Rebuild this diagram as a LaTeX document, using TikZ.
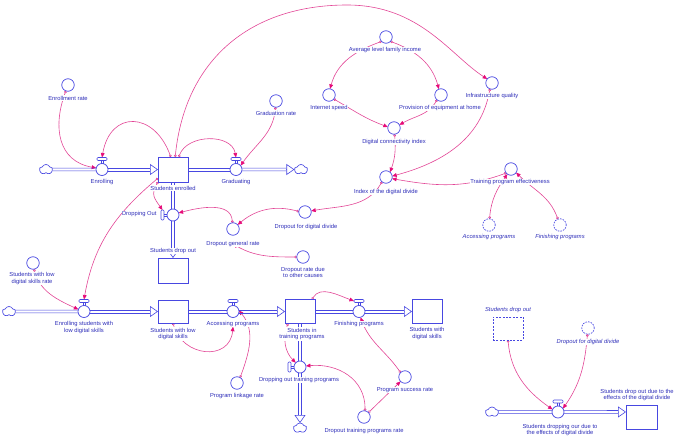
\documentclass[tikz,border=0pt]{standalone}
\usepackage{fontspec}
\setmainfont{Liberation Sans}
\usetikzlibrary{arrows.meta,shapes.symbols}
\definecolor{vblue}{RGB}{72,72,225}
\definecolor{vtext}{RGB}{45,45,185}
\definecolor{vlink}{RGB}{226,70,150}
\definecolor{vtip}{RGB}{230,10,120}
\pgfdeclarelayer{lk}
\pgfsetlayers{lk,main}
% horizontal pipe: start anchor, end anchor, x shift at end
\newcommand\hpipe[3]{%
  \draw[pline] ([yshift=1.4pt]#1) -- ([xshift=#3,yshift=1.4pt]#2);
  \draw[pline] ([yshift=-1.4pt]#1) -- ([xshift=#3,yshift=-1.4pt]#2);}
% vertical pipe (downwards on the page): start anchor, end anchor, y shift at end
\newcommand\vpipe[3]{%
  \draw[pline] ([xshift=1.4pt]#1) -- ([xshift=1.4pt,yshift=#3]#2);
  \draw[pline] ([xshift=-1.4pt]#1) -- ([xshift=-1.4pt,yshift=#3]#2);}
\newcommand\htip[1]{\draw[pipetip] ([xshift=-8.2pt]#1) -- (#1);}
\newcommand\vtip[1]{\draw[pipetip] ([yshift=8.2pt]#1) -- (#1);}
\newcommand\hstem[2]{%
  \draw[sline] ([xshift=0.9pt]#1.south) -- ([xshift=0.9pt]#2.north);
  \draw[sline] ([xshift=-0.9pt]#1.south) -- ([xshift=-0.9pt]#2.north);}
\newcommand\vstem[2]{%
  \draw[sline] ([yshift=0.9pt]#1.east) -- ([yshift=0.9pt]#2.west);
  \draw[sline] ([yshift=-0.9pt]#1.east) -- ([yshift=-0.9pt]#2.west);}
\begin{document}
\begin{tikzpicture}[x=1pt,y=-1pt,
 every node/.style={inner sep=0pt,outer sep=0pt},
 lbl/.style={font=\fontsize{5.8}{6.6}\selectfont, text=vtext, align=center, fill=white, inner sep=0.5pt},
 ilbl/.style={lbl, font=\fontsize{5.8}{6.6}\selectfont\itshape},
 aux/.style={circle, draw=vblue, line width=0.7pt, minimum size=12.5pt},
 gaux/.style={aux, dash pattern=on 1.6pt off 1.1pt},
 stock/.style={rectangle, draw=vblue, line width=0.8pt, minimum width=30pt, minimum height=25pt},
 gstock/.style={stock, dash pattern=on 2pt off 1.4pt},
 valve/.style={circle, draw=vblue, line width=0.75pt, minimum size=12pt},
 hbar/.style={rectangle, rounded corners=1pt, draw=vblue, line width=0.6pt, minimum width=10pt, minimum height=3pt},
 vbar/.style={rectangle, rounded corners=1pt, draw=vblue, line width=0.6pt, minimum width=3pt, minimum height=10pt},
 sline/.style={draw=vblue, line width=0.5pt},
 cloudn/.style={cloud, cloud puffs=5, cloud puff arc=130, aspect=1.3, draw=vblue, line width=0.65pt, minimum width=13pt, minimum height=10pt},
 pline/.style={draw=vblue, line width=0.65pt},
 pipetip/.style={draw=vblue, line width=0.6pt, -{Triangle[length=8pt,width=11pt,fill=white]}},
 link/.style={draw=vlink, line width=0.6pt, {Circle[length=2.6pt,width=2.6pt,fill=white]}-{Triangle[length=4.5pt,width=3.8pt,color=vtip]}},
]
\useasboundingbox (0,0) rectangle (685,441);
% stocks
\node[stock] (se) at (173,169.5) {};
\node[stock] (sdo) at (173,270.5) {};
\node[stock, minimum height=23pt] (slds) at (173,311.5) {};
\node[stock, minimum height=24pt] (sit) at (300,311.5) {};
\node[stock, minimum height=24pt] (sds) at (427,311.5) {};
\node[stock, minimum width=31pt, minimum height=24pt] (sddS) at (641.5,417) {};
\node[gstock, minimum height=23pt] (gsdo) at (508,328.5) {};
% auxiliaries
\node[aux] (er) at (68,85) {};
\node[aux] (gr) at (276,101) {};
\node[aux] (avg) at (386,37) {};
\node[aux] (isp) at (329,95) {};
\node[aux] (prov) at (441,95) {};
\node[aux] (infq) at (492,83) {};
\node[aux] (dci) at (394,128) {};
\node[aux] (idx) at (386,177) {};
\node[aux] (tpe) at (511,169) {};
\node[aux] (dfdd) at (305,212) {};
\node[aux] (dgr) at (233,229) {};
\node[aux] (dro) at (303,257) {};
\node[aux] (sldsr) at (33,263) {};
\node[aux] (plr) at (237,383) {};
\node[aux] (psr) at (405,377) {};
\node[aux] (dtpr) at (364,417) {};
\node[gaux] (accG) at (489,225) {};
\node[gaux] (finG) at (560,225) {};
\node[gaux] (gdfdd) at (588,328) {};
% valves
\node[valve] (enr) at (102,169.5) {};
\node[hbar] (enrH) at (102,159) {};
\node[valve] (grad) at (236,169.5) {};
\node[hbar] (gradH) at (236,159) {};
\node[valve] (esl) at (84,311.5) {};
\node[hbar] (eslH) at (84,301) {};
\node[valve] (acc) at (233,311.5) {};
\node[hbar] (accH) at (233,301) {};
\node[valve] (fin) at (359,311.5) {};
\node[hbar] (finH) at (359,301) {};
\node[valve] (sdv) at (558,412) {};
\node[hbar] (sdvH) at (558,401.5) {};
\node[valve] (dout) at (173,215) {};
\node[vbar] (doutH) at (162.5,215) {};
\node[valve] (dot) at (300,367) {};
\node[vbar] (dotH) at (289.5,367) {};
\hstem{enrH}{enr}
\hstem{gradH}{grad}
\hstem{eslH}{esl}
\hstem{accH}{acc}
\hstem{finH}{fin}
\hstem{sdvH}{sdv}
\vstem{doutH}{dout}
\vstem{dotH}{dot}
% clouds
\node[cloudn] (c1) at (46,169.5) {};
\node[cloudn] (c2) at (301,169.5) {};
\node[cloudn] (c3) at (9,311.5) {};
\node[cloudn] (c4) at (300,428) {};
\node[cloudn] (c5) at (492,412) {};
% pipes
\hpipe{c1.0}{enr.west}{0pt}
\hpipe{enr.east}{se.west}{-8pt}\htip{se.west}
\hpipe{se.east}{grad.west}{0pt}
\hpipe{grad.east}{c2.180}{-8pt}\htip{c2.180}
\vpipe{se.south}{dout.north}{0pt}
\vpipe{dout.south}{sdo.north}{8pt}\vtip{sdo.north}
\hpipe{c3.0}{esl.west}{0pt}
\hpipe{esl.east}{slds.west}{-8pt}\htip{slds.west}
\hpipe{slds.east}{acc.west}{0pt}
\hpipe{acc.east}{sit.west}{-8pt}\htip{sit.west}
\hpipe{sit.east}{fin.west}{0pt}
\hpipe{fin.east}{sds.west}{-8pt}\htip{sds.west}
\vpipe{sit.south}{dot.north}{0pt}
\vpipe{dot.south}{c4.90}{8pt}\vtip{c4.90}
\hpipe{c5.0}{sdv.west}{0pt}
\hpipe{sdv.east}{sddS.162}{-8pt}\htip{sddS.162}
% labels
\node[lbl] (erL) at (68,98) {Enrollment rate};
\node[lbl] (enrL) at (102,182) {Enrolling};
\node[lbl] (seL) at (173,188) {Students enrolled};
\node[lbl] (gradL) at (236,182) {Graduating};
\node[lbl] (grL) at (276,113) {Graduation rate};
\node[lbl] (avgL) at (385,50) {Average level family income};
\node[lbl] (ispL) at (329,108) {Internet speed};
\node[lbl] (provL) at (440,108) {Provision of equipment at home};
\node[lbl] (infqL) at (492,96) {Infrastructure quality};
\node[lbl] (dciL) at (394,142) {Digital connectivity index};
\node[lbl] (idxL) at (386,192) {Index of the digital divide};
\node[lbl] (tpeL) at (510,182) {Training program effectiveness};
\node[ilbl] (accGL) at (489,237) {Accessing programs};
\node[ilbl] (finGL) at (560,237) {Finishing programs};
\node[lbl, anchor=east] (doutL) at (157,214) {Dropping Out};
\node[lbl] (dfddL) at (306,227) {Dropout for digital divide};
\node[lbl] (dgrL) at (233,244) {Dropout general rate};
\node[lbl] (droL) at (303,272.5) {Dropout rate due\\to other causes};
\node[lbl] (sdoL) at (173,251) {Students drop out};
\node[lbl] (sldsrL) at (32,278.5) {Students with low\\digital skills rate};
\node[lbl] (eslL) at (84,327.5) {Enrolling students with\\low digital skills};
\node[lbl] (sldsL) at (173,334) {Students with low\\digital skills};
\node[lbl] (accL) at (233,323.5) {Accessing programs};
\node[lbl] (plrL) at (237,396) {Program linkage rate};
\node[lbl] (sitL) at (302,334) {Students in\\training programs};
\node[lbl] (finL) at (359,324) {Finishing programs};
\node[lbl] (sdsL) at (427,333.5) {Students with\\digital skills};
\node[lbl] (dotL) at (299,380) {Dropping out training programs};
\node[lbl] (psrL) at (405,390) {Program success rate};
\node[lbl] (dtprL) at (364,431) {Dropout training programs rate};
\node[ilbl] (gsdoL) at (508,310) {Students drop out};
\node[ilbl] (gdfddL) at (588,342) {Dropout for digital divide};
\node[lbl] (sdvL) at (560,430) {Students dropping our due to\\the effects of digital divide};
\node[lbl] (sddL) at (637,395) {Students drop out due to the\\effects of the digital divide};
% links
\begin{pgfonlayer}{lk}
\draw[link] (er.250) to[out=250,in=170,looseness=1.2] (enr.165);
\draw[link] (se.100) to[out=110,in=80,looseness=1.8] (enrH.north);
\draw[link] (se.65) to[out=70,in=100,looseness=1.1] (gradH.north);
\draw[link] (gr.-95) to[out=-95,in=55] (grad.40);
\draw[link] (se.80) .. controls (185,60) and (250,5) .. (347,5) .. controls (420,5) and (450,55) .. (infq.140);
\draw[link] (avg.225) to[out=200,in=75] (isp.80);
\draw[link] (avg.-45) to[out=-20,in=105] (prov.110);
\draw[link] (isp.-40) to[out=-30,in=160] (dci.170);
\draw[link] (prov.-130) to[out=-120,in=30] (dci.30);
\draw[link] (dci.-85) to[out=-85,in=70] (idx.50);
\draw[link] (infq.-110) to[out=-100,in=15] (idx.8);
\draw[link] (tpe.220) to[out=200,in=-10] (idx.-15);
\draw[link] (accG.85) to[out=85,in=235] (tpe.235);
\draw[link] (finG.110) to[out=110,in=-45] (tpe.-35);
\draw[link] (idx.-130) to[out=-120,in=10] (dfdd.10);
\draw[link] (dfdd.175) to[out=165,in=40] (dgr.42);
\draw[link] (dgr.95) to[out=95,in=15] (dout.20);
\draw[link] (dro.180) to[out=180,in=-30] (dgrL.center);
\draw[link] (se.south west) to[out=-120,in=125,looseness=1.3] (doutH.north);
\draw[link] (se.-150) to[out=220,in=80] (eslH.north);
\draw[link] (sldsr.-80) to[out=-75,in=155] (esl.160);
\draw[link] (slds.south) to[out=-75,in=-95,looseness=1.5] (accL.south);
\draw[link] (plr.60) to[out=70,in=-50] (acc.10);
\draw[link] (sit.45) to[out=60,in=160] (finH.west);
\draw[link] (sit.-135) to[out=-110,in=135] (dot.135);
\draw[link] (dtpr.80) to[out=90,in=5,looseness=1.1] (dot.10);
\draw[link] (dtpr.45) -- (psr.-135);
\draw[link] (psr.135) to[out=125,in=-70] (fin.-75);
\draw[link] (gsdo.south) to[out=-85,in=145] (sdv.155);
\draw[link] (gdfdd.-95) to[out=-95,in=55] (sdv.35);
\end{pgfonlayer}
\end{tikzpicture}
\end{document}
